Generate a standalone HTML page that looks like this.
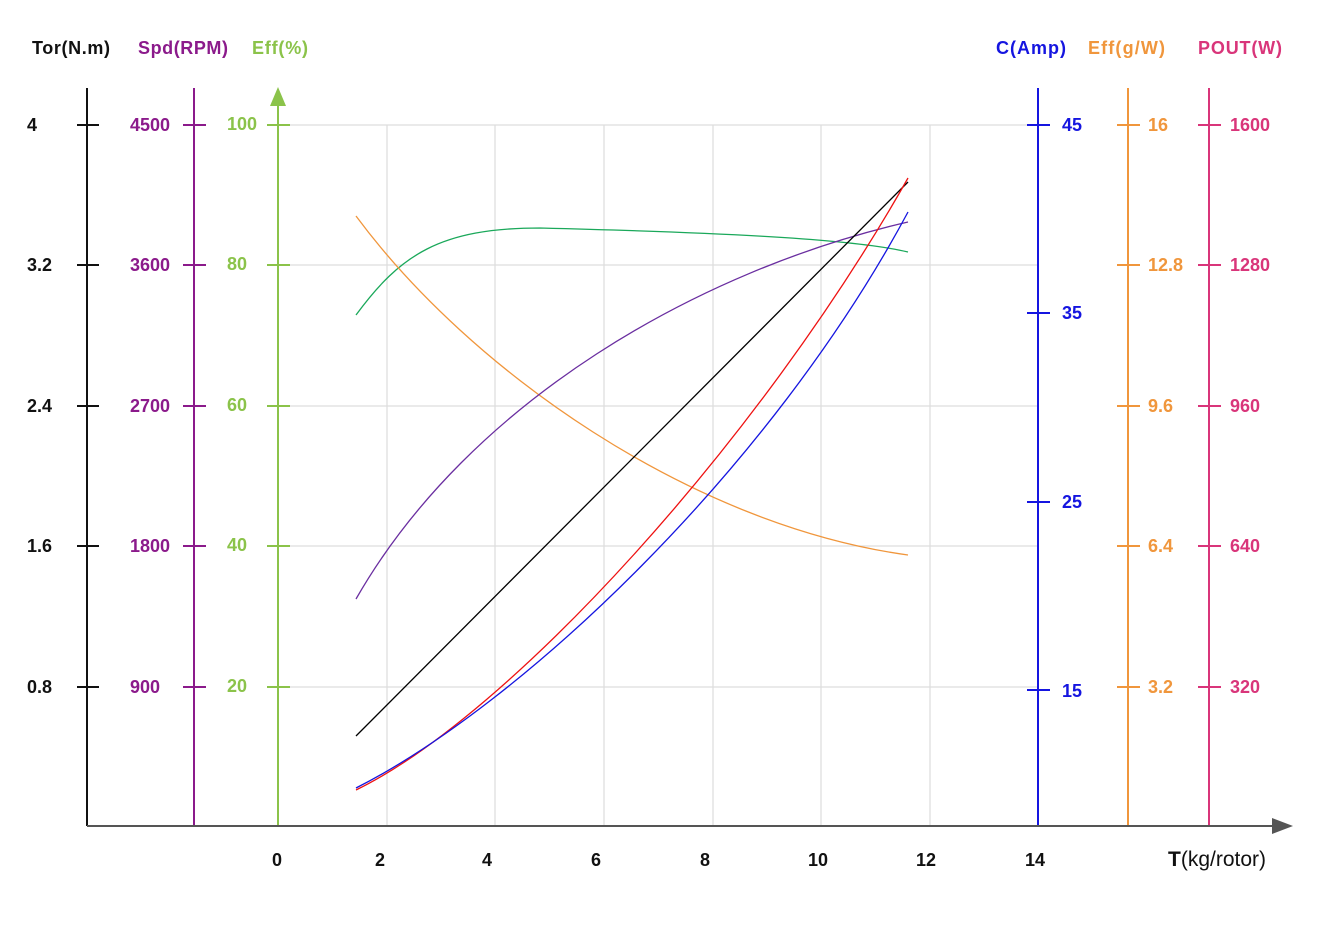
<!DOCTYPE html>
<html><head><meta charset="utf-8"><style>
body{margin:0;background:#fff}
svg text{font-family:"Liberation Sans",sans-serif;font-size:18px;font-weight:bold}
</style></head><body>
<svg width="1326" height="932" viewBox="0 0 1326 932" xmlns="http://www.w3.org/2000/svg">
<g stroke="#ddd" stroke-width="1.2">
<line x1="278" y1="125" x2="1038" y2="125"/><line x1="278" y1="265" x2="1038" y2="265"/><line x1="278" y1="406" x2="1038" y2="406"/><line x1="278" y1="546" x2="1038" y2="546"/><line x1="278" y1="687" x2="1038" y2="687"/>
<line x1="387" y1="125" x2="387" y2="826"/><line x1="495" y1="125" x2="495" y2="826"/><line x1="604" y1="125" x2="604" y2="826"/><line x1="713" y1="125" x2="713" y2="826"/><line x1="821" y1="125" x2="821" y2="826"/><line x1="930" y1="125" x2="930" y2="826"/>
</g>
<g>
<text x="32" y="54" fill="#111" textLength="78">Tor(N.m)</text>
<text x="138" y="54" fill="#8b1a8b" textLength="90">Spd(RPM)</text>
<text x="252" y="54" fill="#8bc34a" textLength="56">Eff(%)</text>
<text x="996" y="54" fill="#1515e0" textLength="70">C(Amp)</text>
<text x="1088" y="54" fill="#f0963c" textLength="77">Eff(g/W)</text>
<text x="1198" y="54" fill="#d9357a" textLength="84">POUT(W)</text>
</g>
<g stroke-width="2">
<line x1="87" y1="88" x2="87" y2="826" stroke="#111"/>
<line x1="194" y1="88" x2="194" y2="826" stroke="#8b1a8b"/>
<line x1="278" y1="100" x2="278" y2="826" stroke="#8bc34a"/>
<line x1="1038" y1="88" x2="1038" y2="826" stroke="#1515e0"/>
<line x1="1128" y1="88" x2="1128" y2="826" stroke="#f0963c"/>
<line x1="1209" y1="88" x2="1209" y2="826" stroke="#d9357a"/>
<line x1="87" y1="826" x2="1278" y2="826" stroke="#555"/>
</g>
<polygon points="278,87 270,106 286,106" fill="#8bc34a"/>
<polygon points="1293,826 1272,818 1272,834" fill="#555"/>
<g stroke-width="2">
<g stroke="#111"><line x1="77" x2="99" y1="125" y2="125"/><line x1="77" x2="99" y1="265" y2="265"/><line x1="77" x2="99" y1="406" y2="406"/><line x1="77" x2="99" y1="546" y2="546"/><line x1="77" x2="99" y1="687" y2="687"/></g>
<g stroke="#8b1a8b"><line x1="183" x2="206" y1="125" y2="125"/><line x1="183" x2="206" y1="265" y2="265"/><line x1="183" x2="206" y1="406" y2="406"/><line x1="183" x2="206" y1="546" y2="546"/><line x1="183" x2="206" y1="687" y2="687"/></g>
<g stroke="#8bc34a"><line x1="267" x2="290" y1="125" y2="125"/><line x1="267" x2="290" y1="265" y2="265"/><line x1="267" x2="290" y1="406" y2="406"/><line x1="267" x2="290" y1="546" y2="546"/><line x1="267" x2="290" y1="687" y2="687"/></g>
<g stroke="#1515e0"><line x1="1027" x2="1050" y1="125" y2="125"/><line x1="1027" x2="1050" y1="313" y2="313"/><line x1="1027" x2="1050" y1="502" y2="502"/><line x1="1027" x2="1050" y1="690" y2="690"/></g>
<g stroke="#f0963c"><line x1="1117" x2="1140" y1="125" y2="125"/><line x1="1117" x2="1140" y1="265" y2="265"/><line x1="1117" x2="1140" y1="406" y2="406"/><line x1="1117" x2="1140" y1="546" y2="546"/><line x1="1117" x2="1140" y1="687" y2="687"/></g>
<g stroke="#d9357a"><line x1="1198" x2="1221" y1="125" y2="125"/><line x1="1198" x2="1221" y1="265" y2="265"/><line x1="1198" x2="1221" y1="406" y2="406"/><line x1="1198" x2="1221" y1="546" y2="546"/><line x1="1198" x2="1221" y1="687" y2="687"/></g>
</g>
<g fill="#111"><text x="27" y="131">4</text><text x="27" y="271">3.2</text><text x="27" y="412">2.4</text><text x="27" y="552">1.6</text><text x="27" y="693">0.8</text></g>
<g fill="#8b1a8b"><text x="130" y="131">4500</text><text x="130" y="271">3600</text><text x="130" y="412">2700</text><text x="130" y="552">1800</text><text x="130" y="693">900</text></g>
<g fill="#8bc34a"><text x="227" y="130">100</text><text x="227" y="270">80</text><text x="227" y="411">60</text><text x="227" y="551">40</text><text x="227" y="692">20</text></g>
<g fill="#1515e0"><text x="1062" y="131">45</text><text x="1062" y="319">35</text><text x="1062" y="508">25</text><text x="1062" y="697">15</text></g>
<g fill="#f0963c"><text x="1148" y="131">16</text><text x="1148" y="271">12.8</text><text x="1148" y="412">9.6</text><text x="1148" y="552">6.4</text><text x="1148" y="693">3.2</text></g>
<g fill="#d9357a"><text x="1230" y="131">1600</text><text x="1230" y="271">1280</text><text x="1230" y="412">960</text><text x="1230" y="552">640</text><text x="1230" y="693">320</text></g>
<g fill="#111" text-anchor="middle" style="font-size:20px"><text x="277" y="866">0</text><text x="380" y="866">2</text><text x="487" y="866">4</text><text x="596" y="866">6</text><text x="705" y="866">8</text><text x="818" y="866">10</text><text x="926" y="866">12</text><text x="1035" y="866">14</text></g>
<text x="1168" y="866" fill="#111" style="font-size:21px">T<tspan font-weight="normal">(kg/rotor)</tspan></text>
<g fill="none" stroke-width="1.3">
<path d="M356,315 C400,255 440,228 540,228 C700,232 850,238 908,252" stroke="#1aa85a"/>
<path d="M356,216 C470,370 690,525 908,555" stroke="#f0963c"/>
<path d="M356,599 C470,400 700,270 908,222" stroke="#6a2ea0"/>
<line x1="356" y1="736" x2="908" y2="182" stroke="#000"/>
<path d="M356,790 C510,715 760,440 908,178" stroke="#ee1111"/>
<path d="M356,788 C520,705 770,470 908,212" stroke="#1515e0"/>
</g>
</svg>
</body></html>
